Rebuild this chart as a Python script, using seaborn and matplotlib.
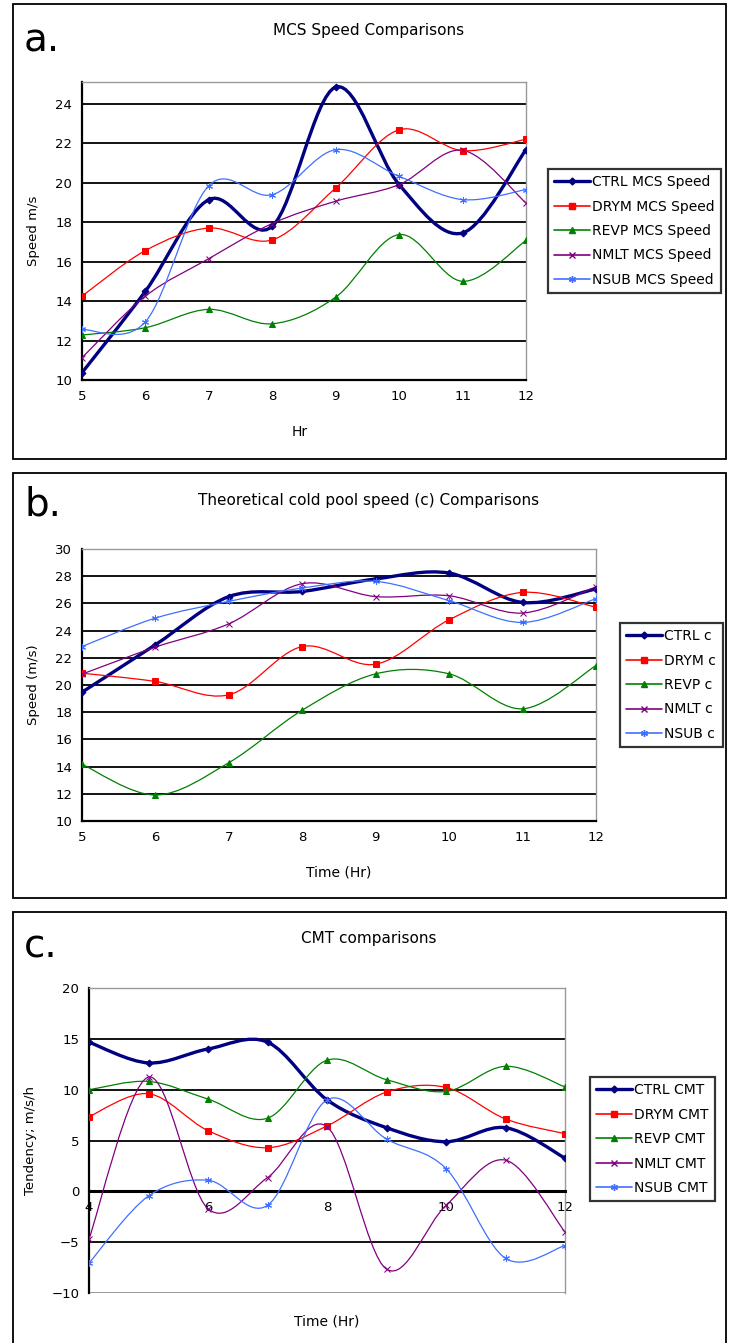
import numpy as np
import matplotlib
matplotlib.use("Agg")
import matplotlib.pyplot as plt
import seaborn as sns
from matplotlib.path import Path
from matplotlib.patches import PathPatch, Rectangle
from matplotlib.lines import Line2D

# Data
hours_ab = [5, 6, 7, 8, 9, 10, 11, 12]
hours_c = [4, 5, 6, 7, 8, 9, 10, 11, 12]

runs = ["CTRL", "DRYM", "REVP", "NMLT", "NSUB"]

# a. MCS speed (m/s)
ctrl_speed = [10.37, 14.5, 19.14, 17.79, 24.84, 19.9, 17.45, 21.67]
drym_speed = [14.25, 16.56, 17.7, 17.1, 19.73, 22.68, 21.62, 22.2]
revp_speed = [12.28, 12.65, 13.58, 12.85, 14.2, 17.37, 15.0, 17.07]
nmlt_speed = [11.13, 14.25, 16.15, 17.93, 19.06, 19.9, 21.64, 18.97]
nsub_speed = [12.56, 12.95, 19.85, 19.39, 21.67, 20.32, 19.14, 19.65]

# b. theoretical cold pool speed c (m/s)
ctrl_c = [19.47, 22.96, 26.5, 26.88, 27.8, 28.23, 26.07, 27.06]
drym_c = [20.87, 20.26, 19.28, 22.83, 21.53, 24.8, 26.81, 25.72]
revp_c = [14.17, 11.91, 14.29, 18.15, 20.82, 20.82, 18.25, 21.43]
nmlt_c = [20.8, 22.79, 24.5, 27.45, 26.5, 26.56, 25.29, 27.22]
nsub_c = [22.83, 24.92, 26.15, 27.13, 27.62, 26.2, 24.6, 26.35]

# c. CMT tendency (m/s/h)
ctrl_cmt = [14.67, 12.63, 14.0, 14.67, 9.0, 6.26, 4.88, 6.26, 3.27]
drym_cmt = [7.35, 9.6, 5.97, 4.29, 6.43, 9.76, 10.22, 7.12, 5.67]
revp_cmt = [9.99, 10.81, 9.07, 7.19, 12.9, 10.98, 9.82, 12.3, 10.27]
nmlt_cmt = [-4.68, 11.24, -1.71, 1.35, 6.36, -7.65, -1.38, 3.07, -4.0]
nsub_cmt = [-7.06, -0.46, 1.09, -1.38, 9.0, 5.14, 2.24, -6.59, -5.33]

colors = {"CTRL": "#000080", "DRYM": "#FF0000", "REVP": "#008000",
          "NMLT": "#800080", "NSUB": "#3F6FFF"}
markers = {"CTRL": "D", "DRYM": "s", "REVP": "^", "NMLT": "x", "NSUB": (6, 2, 0)}
msizes = {"CTRL": 3.5, "DRYM": 5, "REVP": 5, "NMLT": 4, "NSUB": 5}
lwidths = {"CTRL": 2.4, "DRYM": 0.9, "REVP": 0.9, "NMLT": 0.9, "NSUB": 0.9}

sns.set_style("white")
plt.rcParams["font.family"] = ["DejaVu Sans"]
plt.rcParams["text.color"] = "black"
plt.rcParams["axes.labelcolor"] = "black"
plt.rcParams["xtick.color"] = "black"
plt.rcParams["ytick.color"] = "black"

W, H = 729, 1343
fig = plt.figure(figsize=(W / 100, H / 100), dpi=100)
fig.patch.set_facecolor("white")


def rect(l, r, t, b):
    return [l / W, 1 - b / H, (r - l) / W, (b - t) / H]


def smooth_path(xs, ys):
    # Excel-style smoothed line (cubic Bezier through the points)
    pts = np.column_stack([xs, ys]).astype(float)
    n = len(pts)
    verts = [pts[0]]
    codes = [Path.MOVETO]
    for i in range(n - 1):
        p0 = pts[max(i - 1, 0)]
        p1 = pts[i]
        p2 = pts[i + 1]
        p3 = pts[min(i + 2, n - 1)]
        verts += [p1 + (p2 - p0) / 6, p2 - (p3 - p1) / 6, p2]
        codes += [Path.CURVE4] * 3
    return Path(verts, codes)


def draw_series(ax, x, series):
    for name, vals in zip(runs, series):
        patch = PathPatch(smooth_path(x, vals), facecolor="none",
                          edgecolor=colors[name], lw=lwidths[name],
                          transform=ax.transData, zorder=3)
        ax.add_patch(patch)
        sns.lineplot(x=x, y=vals, ax=ax, color=colors[name],
                     marker=markers[name], markersize=msizes[name],
                     markeredgecolor=colors[name], linestyle="none",
                     legend=False, zorder=4)


def style_axes(ax, ylim, yticks, grid_vals):
    ax.set_ylim(*ylim)
    ax.set_yticks(yticks)
    for v in grid_vals:
        ax.axhline(v, color="black", lw=1.3, zorder=1)
    for s in ["top", "right"]:
        ax.spines[s].set_color("#999999")
        ax.spines[s].set_linewidth(1.0)
    for s in ["left", "bottom"]:
        ax.spines[s].set_color("black")
        ax.spines[s].set_linewidth(1.6)
    ax.tick_params(direction="out", length=4, width=1.2, color="black",
                   labelcolor="black", labelsize=9.5, pad=3)
    ax.set_facecolor("white")


def add_legend(ax, labels, x, y):
    handles = [Line2D([], [], color=colors[n], lw=max(lwidths[n], 1.2),
                      marker=markers[n], markersize=msizes[n],
                      markeredgecolor=colors[n]) for n in runs]
    leg = ax.legend(handles, labels, loc="upper left",
                    bbox_to_anchor=(x / W, 1 - y / H),
                    bbox_transform=fig.transFigure, frameon=True,
                    fancybox=False, fontsize=10, handlelength=2.6,
                    handletextpad=0.15, labelspacing=0.75, borderpad=0.45,
                    borderaxespad=0, labelcolor="black")
    leg.get_frame().set_edgecolor("black")
    leg.get_frame().set_linewidth(1.6)


def panel_box(t, b, letter, title, title_y, letter_y):
    fig.add_artist(Rectangle((13 / W, 1 - b / H), (726 - 13) / W, (b - t) / H,
                             transform=fig.transFigure, fill=False,
                             edgecolor="black", lw=1.3))
    fig.text(369 / W, 1 - title_y / H, title, ha="center", va="center",
             fontsize=11, color="black")
    fig.text(24 / W, 1 - letter_y / H, letter, ha="left", va="baseline",
             fontsize=28, color="black")


# ---- a. MCS speed ----
ax_a = fig.add_axes(rect(82, 526, 82, 380))
draw_series(ax_a, hours_ab, [ctrl_speed, drym_speed, revp_speed, nmlt_speed, nsub_speed])
ax_a.set_xlim(5, 12)
ax_a.set_xticks(hours_ab)
style_axes(ax_a, (10, 25.1), list(range(10, 25, 2)), list(range(12, 25, 2)))
ax_a.set_xlabel("Hr", fontsize=10)
ax_a.set_ylabel("Speed m/s", fontsize=9.5)
ax_a.xaxis.set_label_coords(0.49, -0.15)
ax_a.yaxis.set_label_coords(-0.095, 0.5)
add_legend(ax_a, [f"{n} MCS Speed" for n in runs], 548, 169)
panel_box(4, 459, "a.", "MCS Speed Comparisons", 30, 52)

# ---- b. cold pool speed ----
ax_b = fig.add_axes(rect(82, 596, 549, 821))
draw_series(ax_b, hours_ab, [ctrl_c, drym_c, revp_c, nmlt_c, nsub_c])
ax_b.set_xlim(5, 12)
ax_b.set_xticks(hours_ab)
style_axes(ax_b, (10, 30), list(range(10, 31, 2)), list(range(12, 29, 2)))
ax_b.set_xlabel("Time (Hr)", fontsize=10)
ax_b.set_ylabel("Speed (m/s)", fontsize=9.5)
ax_b.xaxis.set_label_coords(0.5, -0.165)
ax_b.yaxis.set_label_coords(-0.082, 0.5)
add_legend(ax_b, [f"{n} c" for n in runs], 620, 623)
panel_box(473, 898, "b.", "Theoretical cold pool speed (c) Comparisons", 500, 516)

# ---- c. CMT ----
ax_c = fig.add_axes(rect(89, 565, 988, 1293))
draw_series(ax_c, hours_c, [ctrl_cmt, drym_cmt, revp_cmt, nmlt_cmt, nsub_cmt])
ax_c.set_xlim(4, 12)
ax_c.set_xticks([4, 6, 8, 10, 12])
style_axes(ax_c, (-10, 20), list(range(-10, 21, 5)), [-5, 5, 10, 15])
ax_c.spines["bottom"].set_position(("data", 0))
ax_c.spines["bottom"].set_linewidth(2.2)
ax_c.axhline(-10, color="#888888", lw=1.2, zorder=1)
ax_c.set_xlabel("Time (Hr)", fontsize=10)
ax_c.set_ylabel("Tendency; m/s/h", fontsize=9.5)
ax_c.xaxis.set_label_coords(0.5, -0.07)
ax_c.yaxis.set_label_coords(-0.11, 0.5)
add_legend(ax_c, [f"{n} CMT" for n in runs], 590, 1077)
panel_box(912, 1360, "c.", "CMT comparisons", 938, 958)

fig.savefig("out.png", dpi=100, facecolor="white")
